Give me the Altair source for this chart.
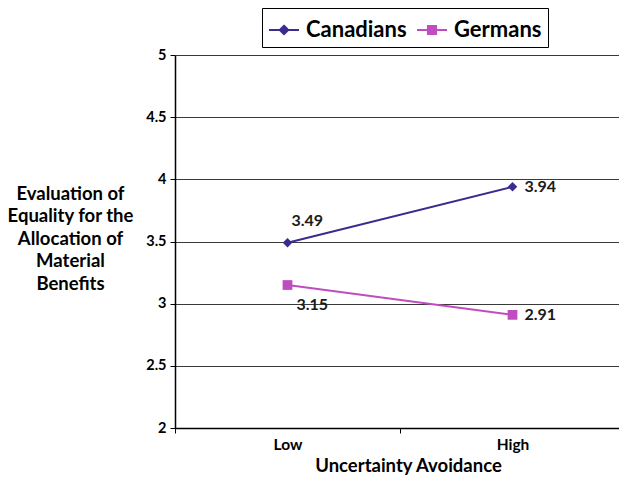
import altair as alt
import pandas as pd

series_names = ["Canadians", "Germans"]
level_names = ["Low", "High"]
groups = ["Canadians", "Canadians", "Germans", "Germans"]
levels = ["Low", "High", "Low", "High"]
values = [3.49, 3.94, 3.15, 2.91]
series_colors = ["#3b2b8f", "#bf4dbf"]
y_ticks = [2, 2.5, 3, 3.5, 4, 4.5, 5]

df = pd.DataFrame({"series": groups, "level": levels, "value": values})
df["label"] = df["value"].map(lambda v: f"{v:.2f}")

FONT = "Lato"
# legend glyphs: a line through a small diamond / square, drawn with strokes only
DIAMOND_LEG = ("M-1,0L1,0M0,-0.28L0.28,0L0,0.28L-0.28,0Z"
               "M0,-0.14L0.14,0L0,0.14L-0.14,0Z")
SQUARE_LEG = ("M-1,0L1,0M-0.27,-0.27L0.27,-0.27L0.27,0.27L-0.27,0.27Z"
              "M-0.14,-0.14L0.14,-0.14L0.14,0.14L-0.14,0.14Z")

x_enc = alt.X(
    "level:N",
    sort=level_names,
    bandPosition=0.5,
    scale=alt.Scale(type="band", domain=level_names, range=[0, 450],
                    paddingInner=0, paddingOuter=0),
    axis=alt.Axis(
        title="Uncertainty Avoidance", tickBand="extent", grid=False,
        labelFont=FONT, labelFontSize=15.5, labelFontWeight="bold", labelColor="black",
        labelPadding=4, labelAngle=0,
        titleFont=FONT, titleFontSize=18.5, titleFontWeight="bold", titleColor="black",
        titlePadding=4, titleX=233, tickSize=5, tickColor="black", domainColor="black",
        domainWidth=1.5,
    ),
)
y_enc = alt.Y(
    "value:Q",
    scale=alt.Scale(domain=[2, 5], nice=False, zero=False),
    axis=alt.Axis(
        values=y_ticks, format="~g", grid=True, gridColor="#3a3a3a", gridWidth=1,
        labelFont=FONT, labelFontSize=14.5, labelFontWeight="bold", labelColor="black",
        labelPadding=4, tickSize=5, tickColor="black", domainColor="black",
        domainWidth=1.5,
        title=["Evaluation of", "Equality for the", "Allocation of", "Material", "Benefits"],
        titleAngle=0, titleAlign="center", titleBaseline="top", titleX=-105, titleY=129,
        titleFont=FONT, titleFontSize=18.5, titleFontWeight="bold", titleColor="black",
        titleLineHeight=22.5,
    ),
)
color_scale = alt.Scale(domain=series_names, range=series_colors)

legend = alt.Legend(
    title=None, orient="none", legendX=87, legendY=-47, direction="horizontal",
    strokeColor="black", fillColor="white", padding=6,
    labelFont=FONT, labelFontSize=22, labelFontWeight="bold", labelColor="black",
    symbolSize=900, symbolStrokeWidth=2, symbolOpacity=1, labelOffset=6, columnPadding=6,
)

base = alt.Chart(df)

lines = base.mark_line(strokeWidth=2).encode(
    x=x_enc, y=y_enc, color=alt.Color("series:N", scale=color_scale, legend=None)
)

diamonds = base.transform_filter(alt.datum.series == "Canadians").mark_point(
    shape="diamond", filled=True, size=90, opacity=1
).encode(x=x_enc, y=y_enc, color=alt.Color("series:N", scale=color_scale, legend=None))
squares = base.transform_filter(alt.datum.series == "Germans").mark_point(
    shape="square", filled=True, size=95, opacity=1
).encode(x=x_enc, y=y_enc, color=alt.Color("series:N", scale=color_scale, legend=None))

legend_layer = base.mark_point(opacity=0, strokeWidth=2).encode(
    x=x_enc, y=y_enc,
    color=alt.Color("series:N", scale=color_scale, legend=legend),
    shape=alt.Shape("series:N", scale=alt.Scale(domain=series_names, range=[DIAMOND_LEG, SQUARE_LEG]), legend=legend),
)

def label_layer(series, level, dx, dy):
    return base.transform_filter(
        (alt.datum.series == series) & (alt.datum.level == level)
    ).mark_text(
        align="left", baseline="middle", dx=dx, dy=dy, font=FONT, fontSize=16,
        fontWeight="bold", color="#1a1a1a"
    ).encode(x=x_enc, y=y_enc, text="label:N")

labels = [
    label_layer("Canadians", "Low", 4, -22),
    label_layer("Canadians", "High", 12, 0),
    label_layer("Germans", "Low", 9, 20),
    label_layer("Germans", "High", 12, 0),
]

chart = alt.layer(legend_layer, lines, diamonds, squares, *labels).properties(
    width=444, height=373,
    autosize=alt.AutoSizeParams(type="none"),
    padding={"left": 175, "top": 55, "right": 0, "bottom": 49},
).configure_view(strokeWidth=0).configure(background="white")

chart.save("out.html", embed_options={"renderer": "svg", "actions": False})
